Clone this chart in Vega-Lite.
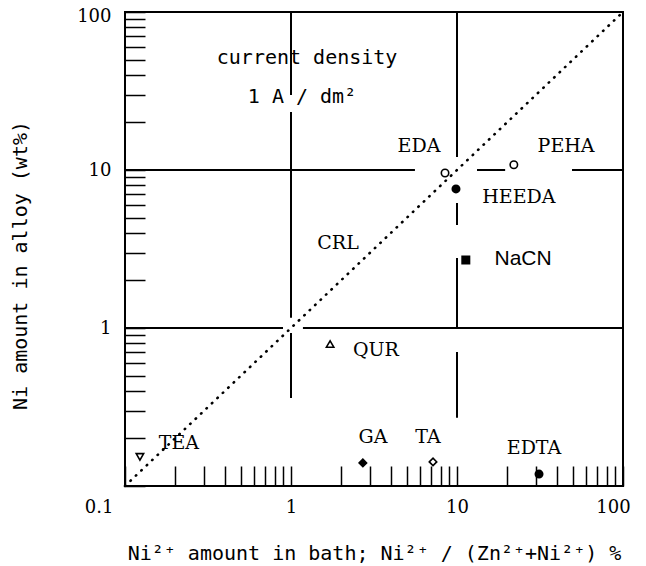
{
  "$schema": "https://vega.github.io/schema/vega-lite/v6.json",
  "width": 498,
  "height": 474,
  "autosize": {"type": "none"},
  "padding": {"left": 125, "top": 12, "right": 23, "bottom": 80},
  "background": "white",
  "config": {"view": {"stroke": "black", "strokeWidth": 2}},
  "datasets": {
    "points": [
      {"name": "TEA", "x": 0.123, "y": 0.153},
      {"name": "GA", "x": 2.71, "y": 0.14},
      {"name": "TA", "x": 7.17, "y": 0.142},
      {"name": "EDTA", "x": 31.2, "y": 0.119},
      {"name": "QUR", "x": 1.72, "y": 0.792},
      {"name": "NaCN", "x": 11.3, "y": 2.69},
      {"name": "EDA", "x": 8.47, "y": 9.57},
      {"name": "HEEDA", "x": 9.86, "y": 7.59},
      {"name": "PEHA", "x": 22.0, "y": 10.8}
    ],
    "labels": [
      {"label": "current density", "x": 1.25, "y": 51.2},
      {"label": "1 A / dm²", "x": 1.165, "y": 29.0},
      {"label": "EDA", "x": 5.9, "y": 14.2},
      {"label": "PEHA", "x": 45.4, "y": 14.2},
      {"label": "HEEDA", "x": 23.6, "y": 6.75},
      {"label": "NaCN", "x": 25.0, "y": 2.73},
      {"label": "CRL", "x": 1.92, "y": 3.45},
      {"label": "QUR", "x": 3.25, "y": 0.726},
      {"label": "TEA", "x": 0.211, "y": 0.187},
      {"label": "GA", "x": 3.12, "y": 0.204},
      {"label": "TA", "x": 6.69, "y": 0.204},
      {"label": "EDTA", "x": 29.1, "y": 0.174}
    ],
    "segments": [
      {"x": 1, "y": 100, "x2": 1, "y2": 29.8},
      {"x": 1, "y": 23.3, "x2": 1, "y2": 1.16},
      {"x": 1, "y": 0.93, "x2": 1, "y2": 0.36},
      {"x": 10, "y": 100, "x2": 10, "y2": 12.1},
      {"x": 10, "y": 6.18, "x2": 10, "y2": 4.49},
      {"x": 10, "y": 2.77, "x2": 10, "y2": 1.01},
      {"x": 10, "y": 0.705, "x2": 10, "y2": 0.27},
      {"x": 0.1, "y": 10, "x2": 5.58, "y2": 10},
      {"x": 13.2, "y": 10, "x2": 19.5, "y2": 10},
      {"x": 49.3, "y": 10, "x2": 100, "y2": 10},
      {"x": 0.1, "y": 1, "x2": 0.895, "y2": 1},
      {"x": 1.18, "y": 1, "x2": 100, "y2": 1}
    ],
    "diag": [{"x": 0.1, "y": 0.1}, {"x": 97, "y": 97}]
  },
  "encoding": {
    "x": {
      "field": "x",
      "type": "quantitative",
      "scale": {"type": "log", "domain": [0.1, 100], "nice": false},
      "axis": {
        "title": "Ni²⁺ amount in bath; Ni²⁺ / (Zn²⁺+Ni²⁺) %",
        "values": [0.1, 0.2, 0.3, 0.4, 0.5, 0.6, 0.7, 0.8, 0.9, 1, 2, 3, 4, 5, 6, 7, 8, 9, 10, 20, 30, 40, 50, 60, 70, 80, 90, 100],
        "domain": false,
        "grid": false,
        "tickSize": -20,
        "tickWidth": 1.5,
        "tickColor": "black",
        "labelExpr": "(datum.value == 0.1 || datum.value == 1 || datum.value == 10 || datum.value == 100) ? datum.label : ''",
        "labelFont": "DejaVu Serif",
        "labelFontSize": 18,
        "labelColor": "black",
        "labelFlush": false,
        "labelOverlap": false,
        "labelBound": false,
        "labelPadding": 32,
        "labelAlign": {"condition": {"test": "datum.value < 0.5", "value": "right"}, "value": "center"},
        "labelOffset": {"condition": [{"test": "datum.value < 0.5", "value": -12}, {"test": "datum.value > 50", "value": -10}], "value": 0},
        "titleFont": "DejaVu Sans Mono",
        "titleFontSize": 20,
        "titleFontWeight": "normal",
        "titleColor": "black",
        "titleY": 67,
        "titleBaseline": "middle"
      }
    },
    "y": {
      "field": "y",
      "type": "quantitative",
      "scale": {"type": "log", "domain": [0.1, 100], "nice": false},
      "axis": {
        "title": "Ni amount in alloy (wt%)",
        "values": [0.1, 0.2, 0.3, 0.4, 0.5, 0.6, 0.7, 0.8, 0.9, 1, 2, 3, 4, 5, 6, 7, 8, 9, 10, 20, 30, 40, 50, 60, 70, 80, 90, 100],
        "domain": false,
        "grid": false,
        "tickSize": -20,
        "tickWidth": 1.5,
        "tickColor": "black",
        "labelExpr": "(datum.value == 1 || datum.value == 10 || datum.value == 100) ? datum.label : ''",
        "labelFont": "DejaVu Serif",
        "labelFontSize": 18,
        "labelColor": "black",
        "labelFlush": false,
        "labelOverlap": false,
        "labelBound": false,
        "labelPadding": 34,
        "labelOffset": {"condition": {"test": "datum.value > 50", "value": 4}, "value": 0},
        "titleFont": "DejaVu Sans Mono",
        "titleFontSize": 20,
        "titleFontWeight": "normal",
        "titleColor": "black",
        "titleX": -105,
        "titleY": 253,
        "titleBaseline": "middle"
      }
    }
  },
  "layer": [
    {
      "data": {"name": "segments"},
      "mark": {"type": "rule", "color": "black", "strokeWidth": 2},
      "encoding": {"x2": {"field": "x2"}, "y2": {"field": "y2"}}
    },
    {
      "data": {"name": "diag"},
      "mark": {"type": "line", "color": "black", "strokeWidth": 2.6, "strokeDash": [0.5, 7], "strokeCap": "round"},
      "encoding": {}
    },
    {
      "data": {"name": "points"},
      "mark": {"type": "point", "filled": true, "stroke": "black", "strokeWidth": 1.6, "size": 55, "opacity": 1},
      "encoding": {
        "shape": {
          "field": "name",
          "scale": {
            "domain": ["TEA", "GA", "TA", "EDTA", "QUR", "NaCN", "EDA", "HEEDA", "PEHA"],
            "range": ["triangle-down", "diamond", "diamond", "circle", "triangle-up", "square", "circle", "circle", "circle"]
          },
          "legend": null
        },
        "fill": {
          "field": "name",
          "scale": {
            "domain": ["TEA", "GA", "TA", "EDTA", "QUR", "NaCN", "EDA", "HEEDA", "PEHA"],
            "range": ["white", "black", "white", "black", "white", "black", "white", "black", "white"]
          },
          "legend": null
        }
      }
    },
    {
      "data": {"name": "labels"},
      "transform": [{"filter": "indexof(['current density', '1 A / dm²'], datum.label) >= 0"}],
      "mark": {"type": "text", "font": "DejaVu Sans Mono", "fontSize": 20, "color": "black", "align": "center", "baseline": "middle"},
      "encoding": {"text": {"field": "label"}}
    },
    {
      "data": {"name": "labels"},
      "transform": [{"filter": "datum.label == 'NaCN'"}],
      "mark": {"type": "text", "font": "Liberation Sans", "fontSize": 21, "color": "black", "align": "center", "baseline": "middle"},
      "encoding": {"text": {"field": "label"}}
    },
    {
      "data": {"name": "labels"},
      "transform": [{"filter": "indexof(['current density', '1 A / dm²', 'NaCN'], datum.label) < 0"}],
      "mark": {"type": "text", "font": "DejaVu Serif", "fontSize": 19, "color": "black", "align": "center", "baseline": "middle"},
      "encoding": {"text": {"field": "label"}}
    }
  ]
}
